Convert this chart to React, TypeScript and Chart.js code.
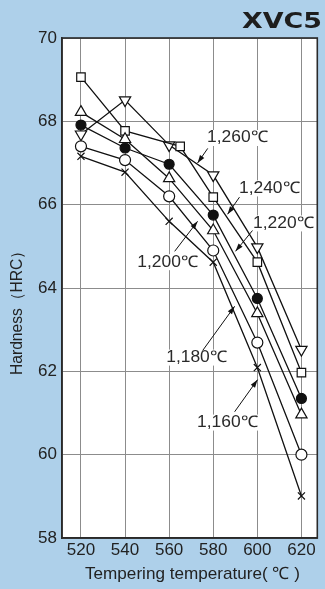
import React, { useEffect, useRef } from 'react';
import { Chart, registerables } from 'chart.js';

Chart.register(...registerables);

// Tempering temperature (°C)
const temps = [520, 540, 560, 580, 600, 620];
const temps1240 = [520, 540, 565, 580, 600, 620];

// Hardness (HRC) per quench temperature
const h1260 = [67.69, 68.51, 67.43, 66.71, 64.98, 62.52];
const h1240 = [69.06, 67.77, 67.4, 66.18, 64.62, 61.97];
const h1220 = [67.91, 67.36, 66.97, 65.75, 63.75, 61.35];
const h1200 = [68.22, 67.57, 66.63, 65.38, 63.39, 60.96];
const h1180 = [67.4, 67.07, 66.2, 64.9, 62.69, 60.0];
const h1160 = [67.16, 66.78, 65.6, 64.62, 62.09, 59.01];

const xTickValues = [520, 540, 560, 580, 600, 620];
const yTickValues = [58, 60, 62, 64, 66, 68, 70];

const seriesNames = ['1,260℃', '1,240℃', '1,220℃', '1,200℃', '1,180℃', '1,160℃'];

// Annotation labels: text centre and arrow (from -> tip) in data units
const labelTextX = [591.0, 605.5, 611.9, 559.4, 572.5, 586.5];
const labelTextY = [67.6, 66.39, 65.55, 64.62, 62.33, 60.77];
const arrowFromX = [577.5, 591.9, 597.8, 562.5, 575.2, 589.7];
const arrowFromY = [67.35, 66.18, 65.38, 64.88, 62.5, 61.03];
const arrowToX = [572.9, 586.5, 590.1, 572.9, 589.7, 600.1];
const arrowToY = [67.0, 65.77, 64.88, 65.6, 63.56, 61.8];

const FONT = '"Liberation Sans", Arial, Helvetica, sans-serif';
const BG = 'rgb(174,208,234)';

const toPts = (xs: number[], ys: number[]) => xs.map((x, i) => ({ x, y: ys[i] }));

// draw text horizontally scaled to a target width
function fitText(ctx: any, text: string, x: number, y: number, targetW: number, align: string) {
  const w = ctx.measureText(text).width;
  const k = targetW / w;
  ctx.save();
  ctx.translate(x, y);
  ctx.scale(k, 1);
  ctx.textAlign = align;
  ctx.fillText(text, 0, 0);
  ctx.restore();
}

const decorPlugin = {
  id: 'decor',
  beforeDraw(chart: any) {
    const { ctx, chartArea: a, width, height } = chart;
    ctx.save();
    ctx.fillStyle = BG;
    ctx.fillRect(0, 0, width, height);
    ctx.fillStyle = '#ffffff';
    ctx.fillRect(a.left, a.top, a.right - a.left, a.bottom - a.top);
    ctx.restore();
  },
  afterDatasetsDraw(chart: any) {
    const { ctx, chartArea: a, scales } = chart;
    const xs = scales.x;
    const ys = scales.y;
    ctx.save();
    // frame
    ctx.strokeStyle = '#2a2a2a';
    ctx.lineWidth = 1.6;
    ctx.strokeRect(a.left, a.top, a.right - a.left, a.bottom - a.top);

    // annotations
    ctx.font = `16px ${FONT}`;
    ctx.textBaseline = 'middle';
    for (let i = 0; i < seriesNames.length; i++) {
      const tx = xs.getPixelForValue(labelTextX[i]);
      const ty = ys.getPixelForValue(labelTextY[i]);
      const tw = 61;
      ctx.fillStyle = '#ffffff';
      ctx.fillRect(tx - tw / 2 - 1, ty - 8, tw + 2, 16);
      ctx.fillStyle = '#2a2a2a';
      fitText(ctx, seriesNames[i], tx, ty, tw, 'center');

      const x1 = xs.getPixelForValue(arrowFromX[i]);
      const y1 = ys.getPixelForValue(arrowFromY[i]);
      const x2 = xs.getPixelForValue(arrowToX[i]);
      const y2 = ys.getPixelForValue(arrowToY[i]);
      ctx.strokeStyle = '#111';
      ctx.lineWidth = 1;
      ctx.beginPath();
      ctx.moveTo(x1, y1);
      ctx.lineTo(x2, y2);
      ctx.stroke();
      const ang = Math.atan2(y2 - y1, x2 - x1);
      const L = 8, W = 2.6;
      ctx.fillStyle = '#111';
      ctx.beginPath();
      ctx.moveTo(x2, y2);
      ctx.lineTo(x2 - L * Math.cos(ang) + W * Math.sin(ang), y2 - L * Math.sin(ang) - W * Math.cos(ang));
      ctx.lineTo(x2 - L * Math.cos(ang) - W * Math.sin(ang), y2 - L * Math.sin(ang) + W * Math.cos(ang));
      ctx.closePath();
      ctx.fill();
    }

    // title
    ctx.font = `bold 22px "DejaVu Sans", ${FONT}`;
    ctx.fillStyle = '#1e1e1e';
    ctx.textBaseline = 'alphabetic';
    fitText(ctx, 'XVC5', 322, 28, 80, 'right');

    // y title
    ctx.font = `16px ${FONT}`;
    ctx.fillStyle = '#222';
    ctx.textBaseline = 'middle';
    ctx.save();
    ctx.translate(18, 309);
    ctx.rotate(-Math.PI / 2);
    fitText(ctx, 'Hardness（HRC）', 0, 0, 132, 'center');
    ctx.restore();

    // x title
    ctx.font = `17px ${FONT}`;
    ctx.fillStyle = '#222';
    ctx.textBaseline = 'middle';
    fitText(ctx, 'Tempering temperature( ℃ )', 192.5, 574, 215, 'center');
    ctx.restore();
  },
};

export default function App() {
  const ref = useRef<HTMLCanvasElement | null>(null);

  useEffect(() => {
    document.body.style.margin = '0';
    const canvas = ref.current!;
    const common = {
      borderColor: '#111',
      borderWidth: 1.3,
      pointBorderColor: '#111',
      pointBorderWidth: 1.2,
      tension: 0,
      fill: false,
    };
    const chart = new Chart(canvas, {
      type: 'line',
      data: {
        datasets: [
          { ...common, label: seriesNames[5], data: toPts(temps, h1160), pointStyle: 'crossRot', pointRadius: 5, pointBackgroundColor: '#111' },
          { ...common, label: seriesNames[4], data: toPts(temps, h1180), pointStyle: 'circle', pointRadius: 5.5, pointBackgroundColor: '#fff' },
          { ...common, label: seriesNames[3], data: toPts(temps, h1200), pointStyle: 'triangle', pointRadius: 6.5, pointBackgroundColor: '#fff' },
          { ...common, label: seriesNames[2], data: toPts(temps, h1220), pointStyle: 'circle', pointRadius: 5, pointBackgroundColor: '#111' },
          { ...common, label: seriesNames[1], data: toPts(temps1240, h1240), pointStyle: 'rect', pointRadius: 6, pointBackgroundColor: '#fff' },
          { ...common, label: seriesNames[0], data: toPts(temps, h1260), pointStyle: 'triangle', pointRotation: 180, pointRadius: 6.5, pointBackgroundColor: '#fff' },
        ],
      },
      options: {
        animation: false,
        responsive: false,
        maintainAspectRatio: false,
        layout: { padding: { left: 0, right: 7, top: 38, bottom: 0 } },
        plugins: { legend: { display: false }, tooltip: { enabled: false }, title: { display: false } },
        scales: {
          x: {
            type: 'linear',
            min: 511.4,
            max: 627.2,
            afterBuildTicks: (s: any) => { s.ticks = xTickValues.map((v) => ({ value: v })); },
            afterFit: (s: any) => { s.height = 51; },
            grid: { color: '#8c8c8c', lineWidth: 1, drawTicks: false },
            border: { display: true, color: '#2a2a2a', width: 1.6 },
            ticks: { font: { family: FONT, size: 17 }, color: '#222', padding: 2, maxRotation: 0 },
          },
          y: {
            type: 'linear',
            min: 58,
            max: 70,
            afterBuildTicks: (s: any) => { s.ticks = yTickValues.map((v) => ({ value: v })); },
            afterFit: (s: any) => { s.width = 62; },
            grid: { color: '#8c8c8c', lineWidth: 1, drawTicks: false },
            border: { display: true, color: '#2a2a2a', width: 1.6 },
            ticks: { font: { family: FONT, size: 17 }, color: '#222', padding: 5 },
          },
        },
      },
      plugins: [decorPlugin],
    } as any);
    return () => chart.destroy();
  }, []);

  return (
    <div style={{ width: 325, height: 589, background: BG }}>
      <canvas ref={ref} width={325} height={589} style={{ display: 'block' }} />
    </div>
  );
}
